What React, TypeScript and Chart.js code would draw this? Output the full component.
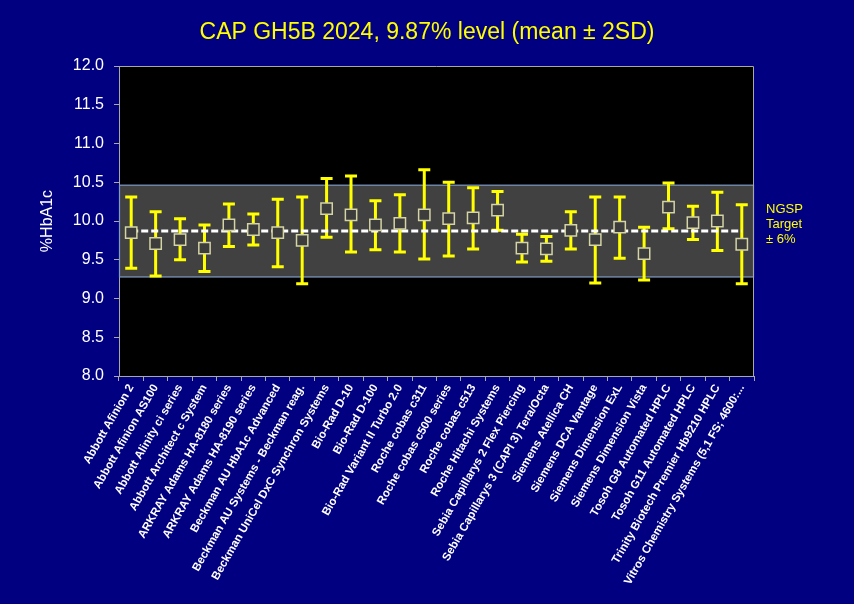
import React, { useEffect, useRef } from 'react';
import { Chart, registerables } from 'chart.js';

Chart.register(...registerables);

const titleText = 'CAP GH5B 2024, 9.87% level (mean ± 2SD)';
const yAxisTitle = '%HbA1c';

const categories = [
  'Abbott Afinion 2',
  'Abbott Afinion AS100',
  'Abbott Alinity ci series',
  'Abbott Architect c System',
  'ARKRAY Adams HA-8180 series',
  'ARKRAY Adams HA-8190 series',
  'Beckman AU HbA1c Advanced',
  'Beckman AU Systems - Beckman reag.',
  'Beckman UniCel DxC Synchron Systems',
  'Bio-Rad D-10',
  'Bio-Rad D-100',
  'Bio-Rad Variant II Turbo 2.0',
  'Roche cobas c311',
  'Roche cobas c500 series',
  'Roche cobas c513',
  'Roche Hitachi Systems',
  'Sebia Capillarys 2 Flex Piercing',
  'Sebia Capillarys 3 (CAPI 3) Tera/Octa',
  'Siemens Atellica CH',
  'Siemens DCA Vantage',
  'Siemens Dimension ExL',
  'Siemens Dimension Vista',
  'Tosoh G8 Automated HPLC',
  'Tosoh G11 Automated HPLC',
  'Trinity Biotech Premier Hb9210 HPLC',
  'Vitros Chemistry Systems (5,1 FS; 4600:...',
];

const means = [
  9.85, 9.71, 9.76, 9.65, 9.95, 9.89, 9.85, 9.75, 10.16, 10.08,
  9.95, 9.97, 10.08, 10.03, 10.04, 10.14, 9.65, 9.64, 9.88, 9.76,
  9.92, 9.58, 10.18, 9.98, 10.0, 9.7,
];

const lows = [
  9.39, 9.29, 9.5, 9.35, 9.67, 9.69, 9.41, 9.19, 9.79, 9.6,
  9.63, 9.6, 9.51, 9.55, 9.64, 9.88, 9.47, 9.48, 9.64, 9.2,
  9.52, 9.24, 9.9, 9.76, 9.62, 9.19,
];

const highs = [
  10.31, 10.12, 10.03, 9.95, 10.22, 10.09, 10.28, 10.31, 10.55, 10.58,
  10.26, 10.34, 10.66, 10.5, 10.43, 10.38, 9.83, 9.8, 10.12, 10.31,
  10.31, 9.92, 10.49, 10.19, 10.37, 10.21,
];

const targetValue = 9.87;
const targetPct = 6;
const bandLow = targetValue * (1 - targetPct / 100);
const bandHigh = targetValue * (1 + targetPct / 100);
const annotationLines = ['NGSP', 'Target', '± 6%'];

const yMin = 8;
const yMax = 12;
const yStep = 0.5;

const FONT = "Arial, 'Liberation Sans', sans-serif";
const NAVY = '#000080';
const AXIS_GREY = '#a8a8a8';

export default function App() {
  const canvasRef = useRef<HTMLCanvasElement | null>(null);

  useEffect(() => {
    document.body.style.margin = '0';
    const canvas = canvasRef.current;
    if (!canvas) return;

    const overlay = {
      id: 'overlay',
      beforeDraw(chart: any) {
        const { ctx, chartArea } = chart;
        ctx.save();
        ctx.fillStyle = '#000000';
        ctx.fillRect(chartArea.left, chartArea.top, chartArea.right - chartArea.left, chartArea.bottom - chartArea.top);
        ctx.restore();
      },
      beforeDatasetsDraw(chart: any) {
        const { ctx, chartArea, scales } = chart;
        const x = scales.x;
        const y = scales.y;
        ctx.save();
        const yTop = y.getPixelForValue(bandHigh);
        const yBot = y.getPixelForValue(bandLow);
        ctx.fillStyle = '#414141';
        ctx.fillRect(chartArea.left, yTop, chartArea.right - chartArea.left, yBot - yTop);
        ctx.strokeStyle = '#7f9cc4';
        ctx.lineWidth = 1.2;
        ctx.strokeRect(chartArea.left + 0.5, yTop, chartArea.right - chartArea.left - 1, yBot - yTop);

        ctx.strokeStyle = '#ffff00';
        ctx.lineWidth = 3;
        ctx.lineCap = 'butt';
        const capHalf = 6;
        for (let i = 0; i < categories.length; i++) {
          const px = x.getPixelForValue(i);
          const pLo = y.getPixelForValue(lows[i]);
          const pHi = y.getPixelForValue(highs[i]);
          ctx.beginPath();
          ctx.moveTo(px, pLo);
          ctx.lineTo(px, pHi);
          ctx.moveTo(px - capHalf, pLo);
          ctx.lineTo(px + capHalf, pLo);
          ctx.moveTo(px - capHalf, pHi);
          ctx.lineTo(px + capHalf, pHi);
          ctx.stroke();
        }

        const ty = y.getPixelForValue(targetValue);
        ctx.strokeStyle = '#ffffff';
        ctx.lineWidth = 3;
        ctx.setLineDash([7, 3]);
        ctx.beginPath();
        ctx.moveTo(x.getPixelForValue(0), ty);
        ctx.lineTo(x.getPixelForValue(categories.length - 1), ty);
        ctx.stroke();
        ctx.setLineDash([]);
        ctx.restore();
      },
      afterDraw(chart: any) {
        const { ctx, chartArea, scales, width } = chart;
        ctx.save();
        ctx.strokeStyle = AXIS_GREY;
        ctx.lineWidth = 1;
        ctx.beginPath();
        ctx.moveTo(chartArea.left, chartArea.top + 0.5);
        ctx.lineTo(chartArea.right - 0.5, chartArea.top + 0.5);
        ctx.lineTo(chartArea.right - 0.5, chartArea.bottom);
        ctx.stroke();

        // title, centred on the full canvas
        ctx.fillStyle = '#ffff00';
        ctx.font = `23px ${FONT}`;
        ctx.textAlign = 'center';
        ctx.textBaseline = 'alphabetic';
        ctx.fillText(titleText, width / 2, 39);

        const ty = scales.y.getPixelForValue(targetValue);
        ctx.font = `13px ${FONT}`;
        ctx.textAlign = 'left';
        ctx.textBaseline = 'middle';
        const lx = chartArea.right + 12;
        const offsets = [-22, -7, 8];
        annotationLines.forEach((t, i) => ctx.fillText(t, lx, ty + offsets[i]));
        ctx.restore();
      },
    };

    const chart = new Chart(canvas, {
      type: 'line',
      data: {
        labels: categories,
        datasets: [
          {
            label: 'Mean',
            data: means,
            showLine: false,
            pointStyle: 'rect',
            pointRadius: 8,
            pointHoverRadius: 8,
            pointBackgroundColor: '#3c3c3c',
            pointBorderColor: '#d4d4a4',
            pointBorderWidth: 1.5,
          },
        ],
      },
      options: {
        animation: false,
        responsive: false,
        maintainAspectRatio: false,
        events: [],
        layout: { padding: { left: 0, right: 100, top: 66, bottom: 0 } },
        plugins: {
          legend: { display: false },
          tooltip: { enabled: false },
          title: { display: false },
        },
        scales: {
          x: {
            type: 'category',
            offset: true,
            grid: {
              offset: true,
              drawOnChartArea: false,
              drawTicks: true,
              tickLength: 5,
              color: AXIS_GREY,
            },
            border: { display: true, color: AXIS_GREY, width: 1 },
            ticks: {
              autoSkip: false,
              minRotation: 60,
              maxRotation: 60,
              color: '#ffffff',
              font: { family: FONT, size: 11.5, weight: 'bold' },
              padding: 1,
            },
            afterFit(scale: any) {
              scale.height = 228;
            },
          },
          y: {
            min: yMin,
            max: yMax,
            grid: {
              drawOnChartArea: false,
              drawTicks: true,
              tickLength: 5,
              color: AXIS_GREY,
            },
            border: { display: true, color: AXIS_GREY, width: 1 },
            ticks: {
              stepSize: yStep,
              color: '#ffffff',
              font: { family: FONT, size: 16 },
              padding: 10,
              callback: (v: any) => Number(v).toFixed(1),
            },
            title: {
              display: true,
              text: yAxisTitle,
              color: '#ffffff',
              font: { family: FONT, size: 16 },
              padding: { top: 38, bottom: 0 },
            },
            afterFit(scale: any) {
              scale.width = 119;
            },
          },
        },
      },
      plugins: [overlay],
    });

    return () => chart.destroy();
  }, []);

  return (
    <div style={{ width: 854, height: 604, background: NAVY }}>
      <canvas ref={canvasRef} width={854} height={604} style={{ display: 'block' }} />
    </div>
  );
}
